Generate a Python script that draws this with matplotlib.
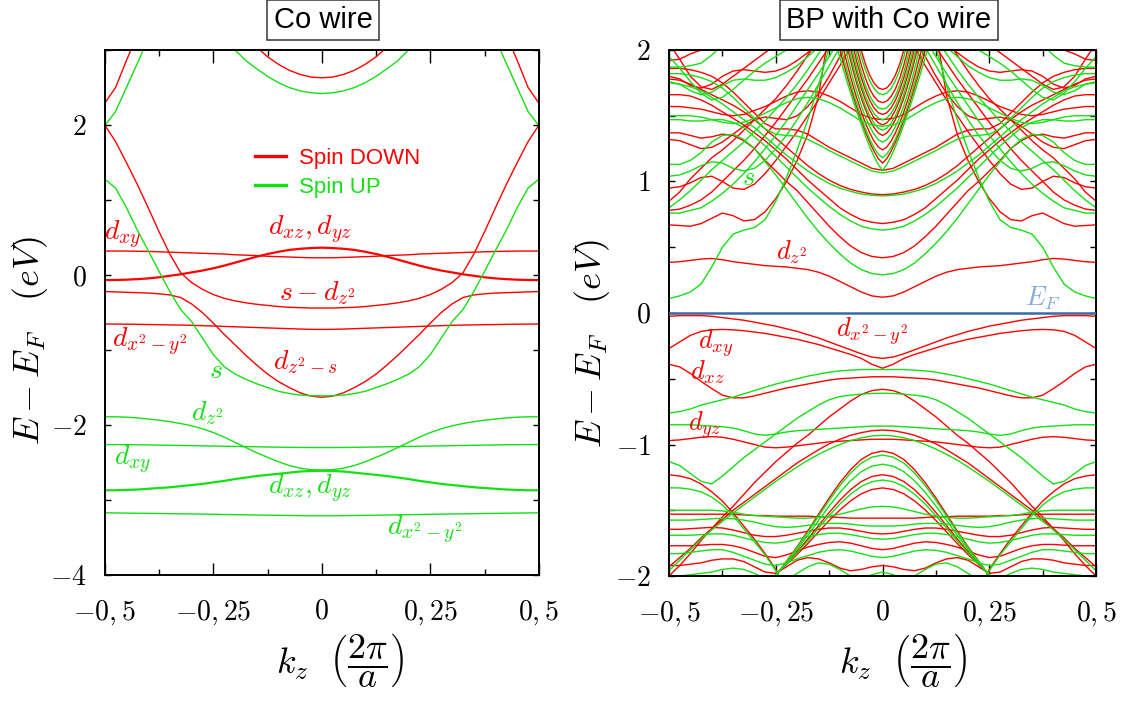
import numpy as np
import matplotlib
matplotlib.use('Agg')
import matplotlib.pyplot as plt
from matplotlib.lines import Line2D

nan = np.nan
plt.rcParams['mathtext.fontset'] = 'cm'
plt.rcParams['font.family'] = ['Liberation Sans', 'DejaVu Sans']

RED = '#ff0000'
GREEN = '#14e014'

# ---------------- k grids (half zone, bands are symmetric in k) -------------
k_half = [0.0, 0.025, 0.05, 0.075, 0.1, 0.125, 0.15, 0.175, 0.2, 0.225, 0.25,
          0.275, 0.3, 0.325, 0.35, 0.375, 0.4, 0.425, 0.45, 0.475, 0.5]
k_center = [0.0, 0.01, 0.02, 0.03, 0.04, 0.05, 0.06, 0.07, 0.08, 0.09, 0.10, 0.11, 0.12]

# ---------------- Co wire (left panel), E - E_F in eV --------------------
co_dn_top = [2.63, 2.64, 2.675, 2.73, 2.81, 2.91, 3.04, 3.19, nan, nan, nan, nan, nan, nan, nan, nan, nan, nan, nan, nan, nan]
co_dn_edge = [nan, nan, nan, nan, nan, nan, nan, nan, nan, nan, nan, nan, nan, nan, nan, nan, 3.55, 3.2, 2.86, 2.50, 2.29]
co_dn_sdz2 = [-0.44, -0.44, -0.435, -0.43, -0.42, -0.405, -0.39, -0.37, -0.345, -0.31, -0.26, -0.19, -0.10, 0.03, 0.28, 0.58, 0.90, 1.21, 1.50, 1.78, 2.0]
co_dn_dz2s = [-1.63, -1.615, -1.57, -1.50, -1.42, -1.32, -1.20, -1.07, -0.93, -0.79, -0.64, -0.50, -0.385, -0.30, -0.265, -0.25, -0.24, -0.235, -0.23, -0.225, -0.22]
co_dn_dxz = [0.365, 0.36, 0.35, 0.335, 0.31, 0.28, 0.245, 0.205, 0.165, 0.125, 0.09, 0.06, 0.035, 0.01, -0.01, -0.03, -0.045, -0.055, -0.062, -0.066, -0.067]
co_dn_dxy = [0.23, 0.23, 0.235, 0.24, 0.245, 0.25, 0.26, 0.265, 0.27, 0.28, 0.285, 0.29, 0.295, 0.30, 0.305, 0.31, 0.315, 0.317, 0.32, 0.32, 0.32]
co_dn_dx2 = [-0.725, -0.724, -0.72, -0.715, -0.71, -0.705, -0.70, -0.695, -0.69, -0.685, -0.68, -0.675, -0.67, -0.667, -0.665, -0.662, -0.66, -0.657, -0.655, -0.654, -0.653]

co_up_top = [2.42, 2.43, 2.456, 2.50, 2.565, 2.65, 2.75, 2.86, 3.0, 3.15, 3.3, nan, nan, nan, nan, nan, nan, nan, nan, nan, nan]
co_up_edge = [nan, nan, nan, nan, nan, nan, nan, nan, nan, nan, nan, nan, nan, nan, nan, nan, 3.15, 2.82, 2.5, 2.18, 1.99]
co_up_s = [-1.61, -1.61, -1.60, -1.58, -1.55, -1.50, -1.45, -1.39, -1.32, -1.22, -1.06, -0.84, -0.62, -0.46, -0.22, 0.05, 0.33, 0.60, 0.90, 1.16, 1.28]
co_up_dz2 = [-2.60, -2.595, -2.575, -2.54, -2.49, -2.43, -2.37, -2.30, -2.23, -2.16, -2.10, -2.05, -2.01, -1.98, -1.955, -1.935, -1.92, -1.905, -1.895, -1.89, -1.89]
co_up_dxy = [-2.30, -2.30, -2.299, -2.297, -2.295, -2.293, -2.29, -2.288, -2.285, -2.283, -2.28, -2.278, -2.275, -2.273, -2.27, -2.268, -2.265, -2.263, -2.262, -2.261, -2.26]
co_up_dxz = [-2.61, -2.612, -2.62, -2.635, -2.65, -2.665, -2.68, -2.70, -2.72, -2.745, -2.765, -2.785, -2.80, -2.815, -2.83, -2.84, -2.85, -2.86, -2.865, -2.87, -2.87]
co_up_dx2 = [-3.21, -3.21, -3.208, -3.206, -3.204, -3.202, -3.20, -3.198, -3.195, -3.193, -3.19, -3.188, -3.186, -3.184, -3.182, -3.18, -3.178, -3.176, -3.174, -3.172, -3.17]

# ---------------- BP with Co wire (right panel) ----------------------------
bp_dn_dz2 = [0.12, 0.13, 0.16, 0.20, 0.24, 0.28, 0.31, 0.33, 0.34, 0.35, 0.355, 0.36, 0.37, 0.38, 0.39, 0.405, 0.415, 0.41, 0.40, 0.39, 0.385]
bp_up_s = [nan, nan, nan, 2.8, 2.4, 2.02, 1.73, 1.47, 1.24, 1.03, 0.85, 0.71, 0.65, 0.63, 0.60, 0.50, 0.35, 0.22, 0.16, 0.13, 0.11]
bp_dn_u1 = [0.42, 0.43, 0.46, 0.51, 0.58, 0.66, 0.75, 0.84, 0.93, 1.00, 1.08, 1.16, 1.25, 1.31, 1.35, 1.36, 1.34, 1.33, 1.35, 1.37, 1.37]
bp_up_u2 = [0.29, 0.30, 0.33, 0.38, 0.45, 0.53, 0.62, 0.72, 0.83, 0.94, 1.05, 1.15, 1.25, 1.32, 1.36, 1.35, 1.30, 1.22, 1.16, 1.13, 1.13]
bp_dn_u3 = [0.68, 0.69, 0.71, 0.75, 0.80, 0.87, 0.94, 1.01, 1.09, 1.17, 1.24, 1.31, 1.37, 1.43, 1.48, 1.53, 1.58, 1.62, 1.65, 1.66, 1.66]
bp_up_u4 = [0.63, 0.64, 0.66, 0.70, 0.75, 0.81, 0.88, 0.95, 1.03, 1.11, 1.19, 1.27, 1.34, 1.41, 1.45, 1.47, 1.47, 1.46, 1.46, 1.47, 1.47]
bp_dn_u5 = [0.90, 0.905, 0.92, 0.94, 0.97, 1.01, 1.06, 1.12, 1.19, 1.26, 1.33, 1.40, 1.47, 1.53, 1.58, 1.62, 1.66, 1.70, 1.74, 1.77, 1.78]
bp_up_u6 = [0.89, 0.895, 0.905, 0.925, 0.95, 0.985, 1.03, 1.08, 1.14, 1.20, 1.27, 1.34, 1.41, 1.47, 1.53, 1.59, 1.64, 1.69, 1.72, 1.74, 1.75]
bp_dn_v = [1.085, 1.10, 1.14, 1.18, 1.22, 1.26, 1.31, 1.36, 1.39, 1.40, 1.40, 1.44, 1.52, 1.60, 1.68, 1.75, 1.80, 1.83, 1.85, 1.86, 1.86]
bp_up_v = [1.065, 1.08, 1.115, 1.155, 1.195, 1.235, 1.28, 1.32, 1.345, 1.35, 1.36, 1.40, 1.48, 1.56, 1.64, 1.71, 1.76, 1.79, 1.81, 1.82, 1.82]
bp_dn_w2 = [1.47, 1.48, 1.51, 1.56, 1.61, 1.65, 1.68, 1.69, 1.68, 1.65, 1.61, 1.57, 1.54, 1.51, 1.50, 1.51, 1.53, 1.55, 1.56, 1.57, 1.57]
bp_up_w2 = [1.42, 1.43, 1.46, 1.51, 1.56, 1.60, 1.63, 1.64, 1.63, 1.60, 1.56, 1.52, 1.48, 1.45, 1.44, 1.45, 1.47, 1.49, 1.50, 1.50, 1.50]
bp_dn_v1 = [nan, nan, nan, 3.0, 2.6, 2.15, 1.65, 1.36, 1.16, 1.00, 0.87, 0.77, 0.71, 0.70, 0.74, 0.76, 0.72, 0.68, 0.66, 0.665, 0.67]
bp_dn_s1 = [nan, nan, nan, nan, nan, 2.2, 2.08, 1.96, 1.84, 1.73, 1.63, 1.55, 1.47, 1.39, 1.31, 1.24, 1.18, 1.10, 1.02, 0.92, 0.85]
bp_up_s2 = [nan, nan, nan, nan, nan, 2.09, 1.97, 1.85, 1.74, 1.64, 1.55, 1.46, 1.38, 1.30, 1.23, 1.16, 1.09, 1.01, 0.93, 0.86, 0.80]
bp_dn_s3 = [nan, nan, nan, nan, 2.15, 2.02, 1.90, 1.78, 1.67, 1.56, 1.45, 1.35, 1.25, 1.16, 1.08, 1.00, 0.92, 0.86, 0.82, 0.79, 0.78]
bp_up_s4 = [nan, nan, nan, nan, 2.08, 1.95, 1.82, 1.70, 1.58, 1.46, 1.35, 1.25, 1.15, 1.06, 0.98, 0.91, 0.85, 0.80, 0.78, 0.76, 0.76]
bp_dn_wa = [nan, nan, nan, nan, nan, nan, nan, nan, nan, nan, 2.04, 1.98, 1.92, 1.86, 1.80, 1.74, 1.70, 1.72, 1.80, 1.93, 2.05]
bp_up_wb = [nan, nan, nan, nan, nan, nan, nan, nan, 2.06, 2.0, 1.95, 1.90, 1.84, 1.77, 1.70, 1.64, 1.62, 1.67, 1.76, 1.86, 1.95]
bp_dn_wc = [nan, nan, nan, 2.1, 1.95, 1.80, 1.67, 1.57, 1.50, 1.47, 1.48, 1.49, 1.47, 1.42, 1.36, 1.30, 1.26, 1.25, 1.28, 1.31, 1.32]
bp_up_wd = [nan, nan, nan, 2.15, 2.02, 1.88, 1.74, 1.60, 1.47, 1.35, 1.25, 1.16, 1.10, 1.08, 1.10, 1.14, 1.15, 1.12, 1.08, 1.05, 1.04]
bp_dn_we = [nan, nan, 2.15, 2.02, 1.88, 1.75, 1.62, 1.50, 1.38, 1.27, 1.16, 1.06, 0.98, 0.94, 0.95, 1.00, 1.04, 1.03, 0.99, 0.96, 0.95]
bp_dn_wg = [nan, nan, nan, nan, nan, nan, 2.05, 1.98, 1.92, 1.87, 1.84, 1.83, 1.84, 1.85, 1.84, 1.80, 1.74, 1.71, 1.73, 1.78, 1.80]
bp_up_wh = [nan, nan, nan, nan, nan, nan, 2.02, 1.95, 1.88, 1.83, 1.79, 1.77, 1.77, 1.78, 1.77, 1.73, 1.68, 1.66, 1.69, 1.74, 1.76]
bp_dn_wi = [nan, nan, nan, nan, nan, nan, nan, nan, nan, nan, nan, nan, nan, nan, 2.06, 2.05, 2.02, 2.0, 1.97, 1.93, 1.92]
bp_up_wj = [nan, nan, nan, nan, nan, nan, nan, nan, nan, nan, nan, nan, nan, nan, nan, 2.04, 1.96, 1.90, 1.88, 1.87, 1.87]

bp_dn_dx2 = [-0.345, -0.335, -0.31, -0.28, -0.25, -0.22, -0.19, -0.165, -0.14, -0.12, -0.10, -0.085, -0.07, -0.055, -0.045, -0.035, -0.025, -0.02, -0.02, -0.02, -0.025]
bp_dn_dxy = [-0.42, -0.39, -0.345, -0.315, -0.29, -0.265, -0.24, -0.22, -0.20, -0.185, -0.17, -0.155, -0.145, -0.135, -0.128, -0.125, -0.128, -0.14, -0.17, -0.22, -0.27]
bp_dn_dxz = [-0.485, -0.485, -0.49, -0.495, -0.50, -0.51, -0.525, -0.54, -0.555, -0.57, -0.59, -0.61, -0.63, -0.645, -0.645, -0.625, -0.575, -0.52, -0.46, -0.41, -0.39]
bp_up_d = [-0.43, -0.43, -0.43, -0.435, -0.44, -0.45, -0.465, -0.48, -0.50, -0.52, -0.54, -0.565, -0.59, -0.615, -0.64, -0.66, -0.68, -0.70, -0.73, -0.75, -0.76]
bp_dn_e = [-0.58, -0.59, -0.62, -0.67, -0.73, -0.79, -0.86, -0.93, -0.99, -1.06, -1.13, -1.21, -1.29, -1.38, -1.47, -1.55, -1.64, -1.73, -1.83, -1.92, -2.0]
bp_up_f = [-0.61, -0.612, -0.617, -0.625, -0.635, -0.66, -0.70, -0.75, -0.80, -0.86, -0.92, -0.98, -1.04, -1.10, -1.17, -1.24, -1.30, -1.28, -1.22, -1.16, -1.13]
bp_up_g = [-0.86, -0.86, -0.865, -0.87, -0.875, -0.88, -0.885, -0.89, -0.895, -0.905, -0.92, -0.93, -0.92, -0.895, -0.875, -0.865, -0.86, -0.855, -0.85, -0.85, -0.85]
bp_dn_dyz = [-0.96, -0.96, -0.965, -0.97, -0.975, -0.98, -0.99, -1.0, -1.01, -1.02, -1.025, -1.02, -1.0, -0.98, -0.96, -0.945, -0.94, -0.945, -0.955, -0.965, -0.97]
bp_dn_wide = [-0.89, -0.895, -0.91, -0.93, -0.96, -0.995, -1.04, -1.09, -1.14, -1.20, -1.26, -1.32, -1.38, -1.44, -1.50, -1.57, -1.64, -1.71, -1.79, -1.86, -1.93]
bp_up_wide = [-0.93, -0.935, -0.95, -0.97, -1.0, -1.035, -1.075, -1.12, -1.17, -1.225, -1.28, -1.34, -1.40, -1.46, -1.52, -1.585, -1.65, -1.72, -1.80, -1.88, -1.96]
bp_dn_n1 = [-1.05, -1.067, -1.114, -1.192, -1.291, -1.407, -1.531, -1.658, -1.777, -1.887, -1.998, -2.15, -2.34, nan, nan, nan, nan, nan, nan, nan, nan]
bp_up_n2 = [-1.08, -1.096, -1.142, -1.217, -1.313, -1.425, -1.545, -1.668, -1.783, -1.89, -1.997, -2.15, -2.33, nan, nan, nan, nan, nan, nan, nan, nan]
bp_up_n3 = [-1.15, -1.165, -1.207, -1.276, -1.365, -1.468, -1.579, -1.692, -1.798, -1.896, -1.995, -2.13, -2.30, nan, nan, nan, nan, nan, nan, nan, nan]
bp_dn_n4 = [-1.23, -1.243, -1.282, -1.344, -1.424, -1.517, -1.617, -1.719, -1.815, -1.903, -1.992, -2.12, -2.27, nan, nan, nan, nan, nan, nan, nan, nan]
bp_up_n5 = [-1.27, -1.283, -1.319, -1.378, -1.453, -1.542, -1.636, -1.733, -1.823, -1.907, -1.99, -2.11, -2.25, nan, nan, nan, nan, nan, nan, nan, nan]
bp_dn_n6 = [-1.33, -1.342, -1.375, -1.429, -1.498, -1.578, -1.665, -1.753, -1.836, -1.912, -1.99, -2.10, -2.23, nan, nan, nan, nan, nan, nan, nan, nan]
bp_dn_x = [nan, nan, nan, nan, nan, nan, nan, -2.5, -2.3, -2.12, -1.95, -1.83, -1.72, -1.62, -1.52, -1.43, -1.36, -1.30, -1.26, -1.24, -1.23]
bp_up_x = [nan, nan, nan, nan, nan, nan, nan, -2.45, -2.25, -2.1, -1.96, -1.84, -1.74, -1.64, -1.54, -1.46, -1.40, -1.36, -1.34, -1.33, -1.33]
bp_up_l1 = [-1.47, -1.475, -1.49, -1.51, -1.53, -1.545, -1.555, -1.56, -1.56, -1.555, -1.55, -1.545, -1.54, -1.53, -1.515, -1.505, -1.50, -1.50, -1.50, -1.50, -1.50]
bp_dn_l2 = [-1.56, -1.56, -1.56, -1.56, -1.555, -1.55, -1.55, -1.545, -1.545, -1.545, -1.545, -1.54, -1.54, -1.535, -1.53, -1.53, -1.53, -1.53, -1.53, -1.53, -1.53]
bp_up_l3 = [-1.62, -1.62, -1.615, -1.605, -1.60, -1.60, -1.605, -1.615, -1.625, -1.63, -1.625, -1.61, -1.59, -1.575, -1.565, -1.56, -1.565, -1.57, -1.575, -1.575, -1.575]
bp_dn_l4 = [-1.68, -1.675, -1.66, -1.645, -1.635, -1.635, -1.645, -1.66, -1.675, -1.69, -1.70, -1.70, -1.69, -1.67, -1.65, -1.635, -1.63, -1.635, -1.64, -1.645, -1.645]
bp_up_l5 = [-1.72, -1.715, -1.70, -1.685, -1.675, -1.675, -1.685, -1.70, -1.72, -1.74, -1.75, -1.745, -1.73, -1.71, -1.69, -1.68, -1.68, -1.685, -1.69, -1.69, -1.69]
bp_dn_l6 = [-1.80, -1.79, -1.77, -1.75, -1.74, -1.745, -1.76, -1.78, -1.81, -1.84, -1.86, -1.85, -1.82, -1.79, -1.77, -1.76, -1.76, -1.765, -1.77, -1.77, -1.77]
bp_up_l7 = [-1.86, -1.85, -1.83, -1.81, -1.80, -1.805, -1.82, -1.845, -1.87, -1.90, -1.92, -1.91, -1.88, -1.85, -1.82, -1.80, -1.80, -1.81, -1.82, -1.83, -1.83]
bp_dn_l8 = [-1.92, -1.93, -1.95, -1.96, -1.94, -1.90, -1.87, -1.86, -1.88, -1.93, -1.98, -1.97, -1.93, -1.89, -1.87, -1.87, -1.88, -1.90, -1.91, -1.92, -1.92]
bp_up_l9 = [-1.97, -1.99, -2.02, -2.0, -1.95, -1.91, -1.90, -1.93, -1.98, -2.03, -2.05, -2.02, -1.98, -1.95, -1.94, -1.95, -1.97, -1.98, -1.99, -2.0, -2.0]

# central steep BP bands (on k_center)
bp_c01 = [1.70, 1.712, 1.748, 1.808, 1.892, 2.0, 2.132, nan, nan, nan, nan, nan, nan]
bp_c02 = [1.66, 1.672, 1.707, 1.765, 1.847, 1.951, 2.08, nan, nan, nan, nan, nan, nan]
bp_c03 = [1.60, 1.611, 1.646, 1.703, 1.784, 1.887, 2.014, 2.16, nan, nan, nan, nan, nan]
bp_c04 = [1.55, 1.561, 1.595, 1.652, 1.731, 1.833, 1.958, 2.106, nan, nan, nan, nan, nan]
bp_c05 = [1.51, 1.523, 1.559, 1.616, 1.694, 1.791, 1.907, 2.043, nan, nan, nan, nan, nan]
bp_c06 = [1.47, 1.483, 1.518, 1.573, 1.648, 1.742, 1.855, 1.986, 2.135, nan, nan, nan, nan]
bp_c07 = [1.43, 1.446, 1.484, 1.542, 1.618, 1.712, 1.821, 1.946, 2.086, nan, nan, nan, nan]
bp_c08 = [1.39, 1.405, 1.443, 1.499, 1.573, 1.664, 1.77, 1.892, 2.029, nan, nan, nan, nan]
bp_c09 = [1.35, 1.369, 1.41, 1.47, 1.546, 1.636, 1.74, 1.857, 1.987, 2.127, nan, nan, nan]
bp_c10 = [1.30, 1.318, 1.359, 1.417, 1.49, 1.578, 1.68, 1.793, 1.919, 2.057, nan, nan, nan]
bp_c11 = [1.24, 1.262, 1.307, 1.369, 1.444, 1.531, 1.63, 1.739, 1.859, 1.986, 2.124, nan, nan]
bp_c12 = [1.18, 1.208, 1.258, 1.323, 1.40, 1.488, 1.585, 1.691, 1.804, 1.925, 2.052, nan, nan]
bp_c13 = [1.14, 1.174, 1.23, 1.299, 1.378, 1.466, 1.561, 1.662, 1.77, 1.882, 2.0, 2.123, nan]
bp_c14 = [1.085, 1.128, 1.191, 1.264, 1.346, 1.434, 1.527, 1.625, 1.727, 1.834, 1.943, 2.058, nan]

x_tick_vals = [-0.5, -0.25, 0.0, 0.25, 0.5]
x_tick_text = [r'$-0,5$', r'$-0,25$', r'$0$', r'$0,25$', r'$0,5$']


def full(k, v):
    k = np.asarray(k, float)
    v = np.asarray(v, float)
    if len(k) != len(v):
        raise ValueError('length mismatch')
    return np.concatenate([-k[:0:-1], k]), np.concatenate([v[:0:-1], v])


def draw(ax, k, bands, color, lw):
    for b in bands:
        kk, ee = full(k, b)
        ax.plot(kk, ee, color=color, lw=lw, solid_joinstyle='round')


def style(ax, ylim, ymaj, ylab, ymin):
    ax.set_xlim(-0.5, 0.5)
    ax.set_ylim(*ylim)
    ax.set_xticks(x_tick_vals)
    ax.set_xticklabels(x_tick_text)
    ax.set_xticks([-0.375, -0.125, 0.125, 0.375], minor=True)
    ax.set_yticks(ymaj)
    ax.set_yticklabels(ylab)
    ax.set_yticks(ymin, minor=True)
    ax.tick_params(which='both', direction='in', top=True, right=True,
                   labelsize=20, width=1.0, color='black')
    ax.tick_params(axis='x', which='major', length=9, pad=17)
    ax.tick_params(axis='x', which='minor', length=4)
    ax.tick_params(axis='y', which='both', length=4.5, pad=13)
    for s in ax.spines.values():
        s.set_linewidth(1.4)


fig = plt.figure(figsize=(11.33, 7.01), dpi=100)
ax1 = fig.add_axes([0.0924, 0.1797, 0.3833, 0.7489])
ax2 = fig.add_axes([0.5905, 0.1783, 0.3769, 0.7504])

# ---- left panel ----
draw(ax1, k_half, [co_dn_top, co_dn_edge, co_dn_sdz2, co_dn_dz2s, co_dn_dxy, co_dn_dx2], RED, 1.0)
draw(ax1, k_half, [co_dn_dxz], RED, 1.6)
draw(ax1, k_half, [co_up_top, co_up_edge, co_up_s, co_up_dz2, co_up_dxy, co_up_dx2], GREEN, 1.0)
draw(ax1, k_half, [co_up_dxz], GREEN, 1.6)
style(ax1, (-4, 3), [-4, -2, 0, 2], [r'$-4$', r'$-2$', r'$0$', r'$2$'], [-3, -1, 1, 3])

lab_kw = dict(fontsize=20, ha='center', va='center')
ax1.text(-0.46, 0.53, r'$d_{xy}$', color=RED, **lab_kw)
ax1.text(-0.027, 0.60, r'$d_{xz}, d_{yz}$', color=RED, **lab_kw)
ax1.text(-0.009, -0.24, r'$s - d_{z^2}$', color=RED, **lab_kw)
ax1.text(-0.396, -0.89, r'$d_{x^2-y^2}$', color=RED, **lab_kw)
ax1.text(-0.244, -1.28, r'$s$', color=GREEN, **lab_kw)
ax1.text(-0.037, -1.16, r'$d_{z^2-s}$', color=RED, **lab_kw)
ax1.text(-0.264, -1.84, r'$d_{z^2}$', color=GREEN, **lab_kw)
ax1.text(-0.435, -2.47, r'$d_{xy}$', color=GREEN, **lab_kw)
ax1.text(-0.027, -2.85, r'$d_{xz}, d_{yz}$', color=GREEN, **lab_kw)
ax1.text(0.238, -3.40, r'$d_{x^2-y^2}$', color=GREEN, **lab_kw)

handles = [Line2D([], [], color=RED, lw=2.4), Line2D([], [], color=GREEN, lw=2.4)]
leg = ax1.legend(handles, ['Spin DOWN', 'Spin UP'], loc='upper left',
                 bbox_to_anchor=(0.30, 0.852), frameon=False, fontsize=16,
                 handlelength=1.4, handletextpad=0.6, labelspacing=0.35)
for t, c in zip(leg.get_texts(), [RED, GREEN]):
    t.set_color(c)

# ---- right panel ----
bp_down = [bp_dn_dz2, bp_dn_u1, bp_dn_u3, bp_dn_u5, bp_dn_v, bp_dn_w2, bp_dn_v1,
           bp_dn_s1, bp_dn_s3, bp_dn_wa, bp_dn_wc, bp_dn_we, bp_dn_wg, bp_dn_wi,
           bp_dn_dx2, bp_dn_dxy, bp_dn_dxz, bp_dn_e, bp_dn_dyz, bp_dn_wide,
           bp_dn_n1, bp_dn_n4, bp_dn_n6, bp_dn_x, bp_dn_l2, bp_dn_l4, bp_dn_l6, bp_dn_l8]
bp_up = [bp_up_s, bp_up_u2, bp_up_u4, bp_up_u6, bp_up_v, bp_up_w2, bp_up_s2, bp_up_s4,
         bp_up_wb, bp_up_wd, bp_up_wh, bp_up_wj, bp_up_d, bp_up_f, bp_up_g, bp_up_wide,
         bp_up_n2, bp_up_n3, bp_up_n5, bp_up_x, bp_up_l1, bp_up_l3, bp_up_l5, bp_up_l7, bp_up_l9]
bp_center_down = [bp_c01, bp_c03, bp_c05, bp_c07, bp_c09, bp_c11, bp_c13]
bp_center_up = [bp_c02, bp_c04, bp_c06, bp_c08, bp_c10, bp_c12, bp_c14]

draw(ax2, k_half, bp_down, RED, 1.0)
draw(ax2, k_center, bp_center_down, RED, 1.0)
draw(ax2, k_half, bp_up, GREEN, 1.0)
draw(ax2, k_center, bp_center_up, GREEN, 1.0)
ax2.axhline(0.0, color='#3a6aa5', lw=1.8, zorder=5)
style(ax2, (-2, 2), [-2, -1, 0, 1, 2], [r'$-2$', r'$-1$', r'$0$', r'$1$', r'$2$'],
      [-1.5, -0.5, 0.5, 1.5])

lab2 = dict(fontsize=19, ha='center', va='center')
ax2.text(-0.315, 1.03, r'$s$', color=GREEN, **lab2)
ax2.text(-0.212, 0.46, r'$d_{z^2}$', color=RED, **lab2)
ax2.text(-0.025, -0.14, r'$d_{x^2-y^2}$', color=RED, **lab2)
ax2.text(-0.39, -0.23, r'$d_{xy}$', color=RED, **lab2)
ax2.text(-0.409, -0.45, r'$d_{xz}$', color=RED, **lab2)
ax2.text(-0.416, -0.85, r'$d_{yz}$', color=RED, **lab2)
ax2.text(0.376, 0.11, r'$E_F$', color='#86a9da', **lab2)

# ---- titles and axis labels ----
box = dict(boxstyle='square,pad=0.22', fc='white', ec='#444444', lw=1.2)
fig.text(323 / 1133, 1 - 20 / 701, 'Co wire', fontsize=21, ha='center', va='center', bbox=box)
fig.text(889 / 1133, 1 - 20 / 701, 'BP with Co wire', fontsize=21, ha='center', va='center', bbox=box)

xl = r'$k_z\ \ \left(\dfrac{2\pi}{a}\right)$'
fig.text(340 / 1133, 1 - 660 / 701, xl, fontsize=26, ha='center', va='center')
fig.text(903 / 1133, 1 - 660 / 701, xl, fontsize=26, ha='center', va='center')
yl = r'$E - E_F\ \ \ (eV)$'
fig.text(30 / 1133, 1 - 341 / 701, yl, fontsize=26, ha='center', va='center', rotation=90)
fig.text(592 / 1133, 1 - 344 / 701, yl, fontsize=26, ha='center', va='center', rotation=90)

fig.savefig('out.png', dpi=100)
